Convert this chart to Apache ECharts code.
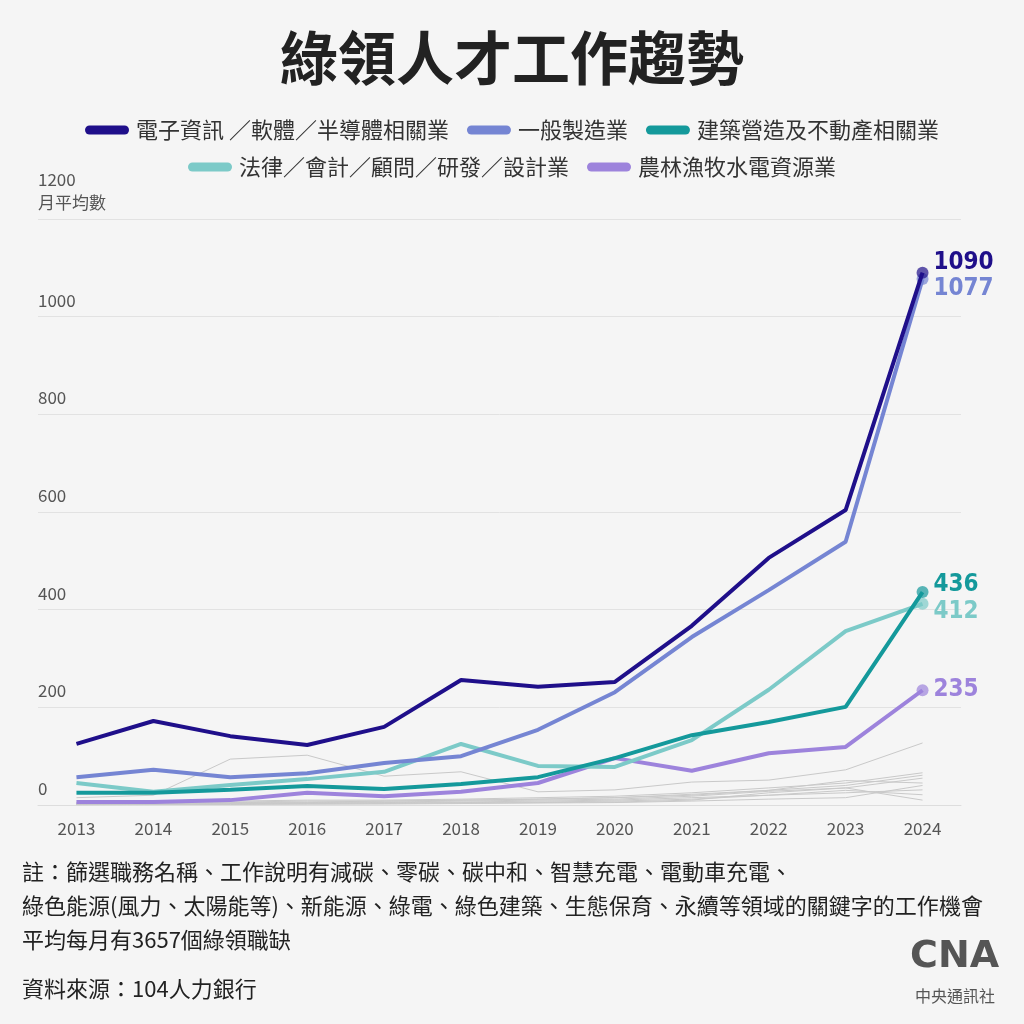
<!DOCTYPE html>
<html><head><meta charset="utf-8">
<script src="https://cdn.jsdelivr.net/npm/echarts@6/dist/echarts.min.js"></script>
<style>html,body{margin:0;padding:0;background:#f5f5f5}#c{width:1024px;height:1024px}</style>
</head><body><div id="c"></div>
<script>
const years = ['2013','2014','2015','2016','2017','2018','2019','2020','2021','2022','2023','2024'];
const yTicks = [0,200,400,600,800,1000,1200];
const seriesNames = ['電子資訊 ／軟體／半導體相關業','一般製造業','建築營造及不動產相關業','法律／會計／顧問／研發／設計業','農林漁牧水電資源業'];
const electronics = [125,172,141,123,160,256,242,252,367,506,604,1090];
const manufacturing = [57,72,57,65,86,100,154,231,344,440,539,1077];
const construction = [25,25,31,39,33,43,57,96,143,170,201,436];
const consulting = [45,27,41,53,68,125,80,78,133,236,356,412];
const agriculture = [6,6,10,25,18,27,45,96,70,106,119,235];
const otherIndustries = [
  [15,20,94,102,59,68,27,31,47,51,72,127],
  [5,5,8,10,10,12,15,18,25,35,45,66],
  [3,4,5,6,8,10,12,15,20,30,40,61],
  [2,3,4,5,6,8,10,12,18,28,35,55],
  [4,5,6,8,8,10,12,15,22,30,50,45],
  [1,2,3,4,5,6,8,10,15,20,25,31],
  [2,2,3,3,4,5,6,8,12,20,30,21],
  [1,1,2,2,3,4,5,6,10,25,35,10],
  [0,1,1,2,2,3,4,5,8,12,15,40]
];
const colors = ['#1f0f8a','#7585d3','#14999b','#7ccac8','#9d83dc'];
const labelOffsets = [-10,10,-7,8,0];
const notes = [
  '註：篩選職務名稱、工作說明有減碳、零碳、碳中和、智慧充電、電動車充電、',
  '綠色能源(風力、太陽能等)、新能源、綠電、綠色建築、生態保育、永續等領域的關鍵字的工作機會',
  '平均每月有3657個綠領職缺'
];
const source = '資料來源：104人力銀行';

const mainData = [electronics, manufacturing, construction, consulting, agriculture];
const last = years.length - 1;
const pill = 'path://M4.5,0 H39.5 A4.5,4.5 0 0 1 39.5,9 H4.5 A4.5,4.5 0 0 1 4.5,0 Z';
function rgba(hex, a){
  const n = parseInt(hex.slice(1),16);
  return 'rgba('+((n>>16)&255)+','+((n>>8)&255)+','+(n&255)+','+a+')';
}

const series = [];
otherIndustries.forEach((d,i)=>{
  series.push({type:'line', name:'other'+i, data:d, silent:true, showSymbol:false, z:1,
    lineStyle:{color:'#c9c9c9', width:1}, itemStyle:{color:'#c9c9c9'}});
});
const order = [4,3,2,1,0];
order.forEach(i=>{
  const d = mainData[i].map((v,j)=> j===last ? {
    value:v, symbol:'circle', symbolSize:12,
    itemStyle:{color:rgba(colors[i],0.7)},
    label:{show:true, position:'right', distance:5, offset:[0,labelOffsets[i]],
      formatter:'{c}', color:colors[i], fontSize:24, fontWeight:'bold',
      fontFamily:'"Liberation Sans Narrow","DejaVu Sans Condensed","Roboto",sans-serif'}
  } : v);
  series.push({type:'line', name:seriesNames[i], data:d, z:3+(4-i),
    symbol:'none', showSymbol:true, lineStyle:{color:colors[i], width:4}, itemStyle:{color:colors[i]}});
});

const chart = echarts.init(document.getElementById('c'), null, {renderer:'canvas'});
const noteGraphics = notes.map((t,i)=>({type:'text', left:22, top:861+i*34,
  style:{text:t, fill:'#222', fontSize:22, fontFamily:'"Noto Sans CJK TC",sans-serif'}}));
chart.setOption({
  backgroundColor:'#f5f5f5',
  color: colors,
  textStyle:{fontFamily:'"Noto Sans CJK TC","Noto Sans",sans-serif'},
  title:{text:'綠領人才工作趨勢', left:'center', top:24,
    textStyle:{fontSize:58, fontWeight:'bold', color:'#222', fontFamily:'"Noto Sans CJK TC",sans-serif'}},
  legend:[
    {data:seriesNames.slice(0,3), top:114, left:'center', icon:pill, itemWidth:44, itemHeight:9, itemGap:18,
     textStyle:{fontSize:22, color:'#333', padding:[0,0,0,2]}, selectedMode:false},
    {data:seriesNames.slice(3), top:151, left:'center', icon:pill, itemWidth:44, itemHeight:9, itemGap:18,
     textStyle:{fontSize:22, color:'#333', padding:[0,0,0,2]}, selectedMode:false}
  ],
  grid:{left:38, right:63, top:219, bottom:219},
  xAxis:{type:'category', data:years, boundaryGap:true,
    axisLine:{lineStyle:{color:'#dddddd'}},
    axisTick:{alignWithLabel:true, length:9, lineStyle:{color:'#555'}},
    axisLabel:{fontSize:17, color:'#555', margin:15}},
  yAxis:{type:'value', min:0, max:1200, interval:200,
    axisLine:{show:false}, axisTick:{show:false},
    splitLine:{lineStyle:{color:'#e2e2e2'}},
    axisLabel:{inside:true, margin:0, verticalAlign:'bottom', align:'left', fontSize:17, color:'#555',
      lineHeight:23, padding:[0,0,5,0],
      formatter:v=> (v===yTicks[yTicks.length-1] ? v+'\n月平均數' : String(v))}},
  graphic:[
    ...noteGraphics,
    {type:'text', left:22, top:978, style:{text:source, fill:'#222', fontSize:22, fontFamily:'"Noto Sans CJK TC",sans-serif'}},
    {type:'text', left:910, top:938, style:{text:'CNA', fill:'#555', fontSize:38, fontWeight:'bold', fontFamily:'"DejaVu Sans",sans-serif'}},
    {type:'text', left:915, top:988, style:{text:'中央通訊社', fill:'#555', fontSize:16, fontFamily:'"Noto Sans CJK TC",sans-serif'}}
  ],
  series: series
});
</script></body></html>
